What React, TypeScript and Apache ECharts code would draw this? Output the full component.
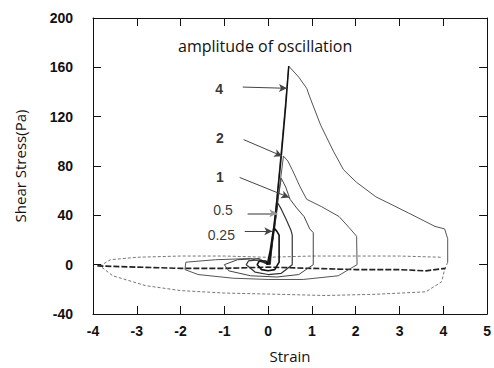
import React, { useEffect, useRef } from "react";
import * as echarts from "echarts";

// x axis: strain, y axis: shear stress (Pa)
const xTicks = [-4, -3, -2, -1, 0, 1, 2, 3, 4, 5];
const yTicks = [-40, 0, 40, 80, 120, 160, 200];

// amplitude 4 : rise, overshoot, decay, drop
const strain4Up = [0.05, 0.2, 0.33, 0.47, 0.7, 0.88, 0.95, 1.2, 1.49, 1.72, 2.01, 2.46, 3.2, 3.81, 4.03, 4.1, 4.1];
const stress4Up = [0, 55, 105, 161, 152, 143, 136, 113, 92, 77, 67, 55, 42, 31, 29, 21, 2];
// amplitude 4 : return path (lower lobe, left end, upper edge)
const strain4Low = [4.1, 4.03, 3.96, 3.6, 2.46, 1.3, 0.2, -1.0, -2.0, -2.8, -3.55, -3.84, -3.6, -3.0, -2.0, -1.0, 0.0, 1.0, 2.0, 3.0, 3.97];
const stress4Low = [2, -4, -14, -22, -24, -25, -24, -23, -21, -17, -9, -1, 4, 6, 7, 7, 6, 7, 7, 7, 6];

const strain2 = [0.03, 0.15, 0.25, 0.35, 0.45, 0.55, 0.73, 0.88, 1.22, 1.62, 1.85, 2.02, 2.03, 1.6, 0.8, 0, -0.8, -1.6, -1.9, -1.88, -1.2, -0.4, 0.03];
const stress2 = [0, 30, 60, 88, 84, 77, 63, 53, 47, 39, 30, 23, 0, -9, -12, -12, -11, -8, -4, 2, 4, 5, 0];

const strain1 = [0.02, 0.12, 0.22, 0.3, 0.4, 0.5, 0.65, 0.82, 0.95, 1.03, 1.03, 0.7, 0.2, -0.4, -0.9, -1.0, -0.7, -0.2, 0.02];
const stress1 = [0, 25, 52, 70, 63, 53, 46, 39, 29, 26, 0, -8, -10, -9, -5, 0, 4, 5, 0];

const strain05 = [0.0, 0.08, 0.15, 0.22, 0.3, 0.42, 0.52, 0.55, 0.55, 0.3, 0.0, -0.3, -0.5, -0.45, -0.2, 0.0];
const stress05 = [0, 15, 32, 50, 45, 36, 28, 24, 0, -7, -8, -6, 0, 3, 4, 0];

const strain025 = [-0.02, 0.05, 0.1, 0.13, 0.2, 0.25, 0.25, 0.15, 0.0, -0.15, -0.25, -0.2, -0.05, -0.02];
const stress025 = [0, 12, 24, 30, 27, 24, 2, -4, -5, -4, 0, 3, 3, 0];

// steep, dark common rising branch
const strainRise = [0.03, 0.1, 0.2, 0.3, 0.4, 0.47];
const stressRise = [0, 22, 52, 88, 128, 161];

// dense central band where the loops overlap
const strainBand = [-3.9, -3.0, -2.0, -1.0, 0.0, 1.0, 2.0, 3.0, 3.6, 4.05];
const stressBand = [-1, -2, -3, -3, -2, -3, -4, -4, -5, -3];

// annotation labels and arrows
const labelText = ["4", "2", "1", "0.5", "0.25"];
const labelX = [-1.12, -1.1, -1.1, -1.03, -1.07];
const labelY = [142.6, 103, 70.7, 44, 23.8];
const arrowX0 = [-0.58, -0.56, -0.65, -0.47, -0.535];
const arrowY0 = [144, 101.4, 70.7, 41.6, 27];
const arrowX1 = [0.43, 0.32, 0.48, 0.21, 0.095];
const arrowY1 = [143, 88, 54.5, 41.6, 27];

const zip = (xs: number[], ys: number[]) => xs.map((x, i) => [x, ys[i]]);

export default function App() {
  const ref = useRef<HTMLDivElement>(null);
  useEffect(() => {
    if (!ref.current) return;
    const chart = echarts.init(ref.current, null, { renderer: "svg" });
    const font = "Liberation Sans";
    const lineSeries = (data: number[][], color: string, width: number, type: any = "solid") => ({
      type: "line",
      data,
      showSymbol: false,
      symbol: "none",
      xAxisIndex: 0,
      yAxisIndex: 0,
      lineStyle: { color, width, type },
      z: 3,
    });
    const tickStyle = { show: true, inside: true, length: 8, lineStyle: { color: "#111", width: 1 } };
    chart.setOption({
      animation: false,
      backgroundColor: "#fff",
      grid: { left: 93, right: 2, top: 18, bottom: 53, containLabel: false },
      xAxis: [
        {
          type: "value",
          min: -4,
          max: 5,
          interval: 1,
          position: "bottom",
          name: "Strain",
          nameLocation: "middle",
          nameGap: 34,
          nameTextStyle: { fontFamily: "Open Sans", fontSize: 15, color: "#111" },
          axisLine: { show: true, onZero: false, lineStyle: { color: "#111", width: 1 } },
          axisTick: tickStyle,
          axisLabel: {
            show: true,
            margin: 10,
            fontFamily: font,
            fontSize: 14,
            fontWeight: "bold",
            color: "#111",
            showMinLabel: true,
            showMaxLabel: true,
            formatter: (v: number) => (xTicks.includes(v) ? String(v) : ""),
          },
          splitLine: { show: false },
        },
        {
          type: "value",
          min: -4,
          max: 5,
          interval: 1,
          position: "top",
          axisLine: { show: true, onZero: false, lineStyle: { color: "#111", width: 1 } },
          axisTick: tickStyle,
          axisLabel: { show: false },
          splitLine: { show: false },
        },
      ],
      yAxis: [
        {
          type: "value",
          min: -40,
          max: 200,
          interval: 40,
          position: "left",
          name: "Shear Stress(Pa)",
          nameLocation: "middle",
          nameGap: 66,
          nameTextStyle: { fontFamily: "Open Sans", fontSize: 15, color: "#111" },
          axisLine: { show: true, onZero: false, lineStyle: { color: "#111", width: 1 } },
          axisTick: tickStyle,
          axisLabel: {
            show: true,
            margin: 20,
            fontFamily: font,
            fontSize: 14,
            fontWeight: "bold",
            color: "#111",
            formatter: (v: number) => (yTicks.includes(v) ? String(v) : ""),
          },
          splitLine: { show: false },
        },
        {
          type: "value",
          min: -40,
          max: 200,
          interval: 40,
          position: "right",
          axisLine: { show: true, onZero: false, lineStyle: { color: "#111", width: 1 } },
          axisTick: tickStyle,
          axisLabel: { show: false },
          splitLine: { show: false },
        },
      ],
      graphic: [
        {
          type: "text",
          left: 178,
          top: 38,
          style: { text: "amplitude of oscillation", fontFamily: "Open Sans", fontSize: 16, fill: "#111" },
        },
      ],
      series: [
        lineSeries(zip(strain4Low, stress4Low), "#777", 1, [3, 2]),
        lineSeries(zip(strainBand, stressBand), "#222", 1.6, [6, 2]),
        lineSeries(zip(strain4Up, stress4Up), "#555", 1),
        lineSeries(zip(strain2, stress2), "#555", 1),
        lineSeries(zip(strain1, stress1), "#444", 1),
        lineSeries(zip(strain05, stress05), "#333", 1.2),
        lineSeries(zip(strain025, stress025), "#111", 1.6),
        lineSeries(zip(strainRise, stressRise), "#111", 1.5),
        {
          type: "scatter",
          xAxisIndex: 0,
          yAxisIndex: 0,
          symbolSize: 0,
          data: labelText.map((t, i) => ({
            value: [labelX[i], labelY[i]],
            name: t,
            label: { fontWeight: t.length === 1 ? "bold" : "normal" },
          })),
          label: {
            show: true,
            position: "inside",
            formatter: (p: any) => p.name,
            fontFamily: font,
            fontSize: 14,
            color: "#000",
          },
          markLine: {
            silent: true,
            symbol: ["none", "arrow"],
            symbolSize: [6, 8],
            label: { show: false },
            data: labelText.map((t, i) => [
              {
                coord: [arrowX0[i], arrowY0[i]],
                lineStyle: { color: t === "0.5" ? "#999" : "#444", width: t === "0.5" ? 2 : 1, type: "solid" },
              },
              { coord: [arrowX1[i], arrowY1[i]] },
            ]),
          },
          z: 5,
        },
      ],
    });
    return () => chart.dispose();
  }, []);
  return (
    <div
      ref={ref}
      style={{ position: "fixed", left: 0, top: 0, width: 494, height: 368, background: "#fff" }}
    />
  );
}
